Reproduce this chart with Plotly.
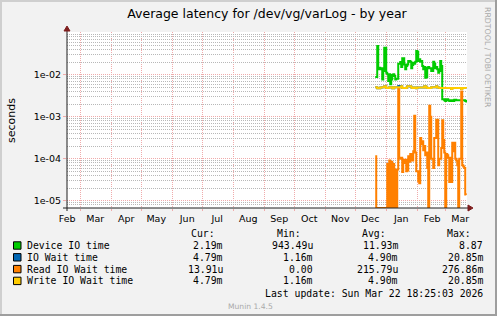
import pandas as pd
import plotly.graph_objects as go

# ---------------- data ----------------
TITLE = "Average latency for /dev/vg/varLog - by year"
Y_TITLE = "seconds"
MONTH_LABELS = ["Feb", "Mar", "Apr", "May", "Jun", "Jul", "Aug",
                "Sep", "Oct", "Nov", "Dec", "Jan", "Feb", "Mar"]
FIRST_MONTH = "2025-02-01"
Y_TICKS = [1e-5, 1e-4, 1e-3, 1e-2]
Y_TICK_LABELS = ["1e-05", "1e-04", "1e-03", "1e-02"]
END_TIME = "2026-03-22 18:25:03"
SPAN_DAYS = 400
DATA_ORIGIN = "2025-12-01"   # day offsets below count from this date

SERIES_NAMES = ["Device IO time", "IO Wait time", "Read IO Wait time", "Write IO Wait time"]
SERIES_COLORS = ["#00CC00", "#0066B3", "#FF8000", "#FFCC00"]

device_days = [20, 22, 23, 24, 25, 26, 27, 28, 29, 31, 32, 33, 34, 35, 36, 37, 38, 39, 40, 41,
               43, 45, 46, 47, 49, 50, 51, 52, 53, 55, 56, 57, 58, 59, 60, 61, 62, 63, 64, 65,
               66, 67, 68, 69, 70, 71, 72, 73, 74, 76, 78, 79, 80, 81, 82, 83, 84, 85, 86, 87,
               89, 90, 91, 93, 94, 96, 98, 99, 101, 110, 111]
device_vals = [0.0088, 0.048, 0.0134, 0.0147, 0.0134, 0.0142, 0.0077, 0.0122, 0.044, 0.0112,
               0.0102, 0.0071, 0.0102, 0.0059, 0.0077, 0.0098, 0.0102, 0.0093, 0.0077, 0.0080,
               0.0183, 0.0200, 0.0152, 0.0245, 0.0176, 0.0134, 0.0161, 0.0176, 0.0211, 0.0204,
               0.0142, 0.0170, 0.0193, 0.0183, 0.0204, 0.0366, 0.0353, 0.0211, 0.0232, 0.0204,
               0.0211, 0.0161, 0.0134, 0.0152, 0.0085, 0.0088, 0.0147, 0.0152, 0.0142, 0.0122,
               0.0204, 0.0183, 0.0142, 0.0152, 0.0134, 0.0112, 0.0122, 0.0211, 0.0161, 0.00259,
               0.00245, 0.00236, 0.00259, 0.00245, 0.00236, 0.00245, 0.00236, 0.00254, 0.00245,
               0.00236, 0.00219]

iowait_days = [20, 22, 25, 27, 29, 31, 33, 34, 37, 39, 43, 45, 46, 47, 51, 52, 56, 57, 59, 61,
               62, 69, 71, 72, 76, 81, 82, 84, 96, 97, 106, 107, 111]
iowait_vals = [5.0e-3, 4.75e-3, 4.95e-3, 5.0e-3, 5.3e-3, 4.85e-3, 4.8e-3, 5.0e-3, 4.75e-3, 5.0e-3,
               5.4e-3, 5.0e-3, 5.3e-3, 4.85e-3, 4.9e-3, 5.3e-3, 4.95e-3, 4.85e-3, 4.95e-3, 4.75e-3,
               4.95e-3, 5.3e-3, 4.95e-3, 4.85e-3, 5.0e-3, 5.3e-3, 4.95e-3, 4.85e-3, 4.55e-3, 4.85e-3,
               4.55e-3, 4.85e-3, 4.79e-3]

read_days = list(range(20, 112))
read_vals = [1.14e-4,
             0, 0, 0, 0, 0, 0, 0, 0, 0, 0, 0,
             7.5e-5, 0, 9.0e-5, 0, 8.5e-5, 0, 7.5e-5, 0, 5.5e-5, 0, 5.5e-5,
             4.8e-3, 1.0e-4, 1.0e-4, 1.05e-4, 4.8e-5, 7.9e-5, 9.5e-5, 9.5e-5, 5.0e-5, 5.2e-5,
             1.14e-4, 8.5e-5, 1.3e-4, 9.0e-5, 9.0e-5, 1.5e-4, 1.06e-3, 1.4e-4, 5.0e-5, 5.0e-5,
             2.9e-5, 2.6e-5, 3.1e-4, 2.2e-4, 2.6e-4, 1.6e-4, 2.0e-4, 1.2e-4, 1.4e-4, 6.0e-5,
             0, 1.83e-3, 1.0e-3, 1.0e-4, 1.0e-4, 6.0e-5, 3.1e-4, 3.1e-4, 8.5e-4, 8.5e-4,
             7.0e-5, 1.0e-4, 1.0e-4, 1.8e-4, 8.2e-4, 2.8e-4, 1.4e-4, 0, 1.3e-4, 1.2e-4,
             1.06e-4, 2.8e-5, 1.06e-4, 2.8e-5, 2.4e-4, 1.5e-4, 2.4e-4, 1.0e-4, 9.0e-5, 7.0e-5,
             0, 1.0e-4, 1.0e-4, 4.0e-3, 7.0e-5, 6.5e-5, 6.0e-5, 1.4e-5, 1.39e-5]

write_days = [20, 22, 25, 27, 29, 31, 33, 34, 37, 39, 43, 46, 47, 51, 52, 56, 57, 59, 61, 62,
              69, 71, 72, 76, 81, 82, 84, 96, 97, 106, 107, 111]
write_vals = [5.0e-3, 4.75e-3, 4.95e-3, 5.0e-3, 5.3e-3, 4.85e-3, 4.8e-3, 5.0e-3, 4.75e-3, 5.0e-3,
              5.0e-3, 5.3e-3, 4.85e-3, 4.9e-3, 5.3e-3, 4.95e-3, 4.85e-3, 4.95e-3, 4.75e-3, 4.95e-3,
              5.3e-3, 4.95e-3, 4.85e-3, 5.0e-3, 5.3e-3, 4.95e-3, 4.85e-3, 4.55e-3, 4.85e-3, 4.55e-3,
              4.85e-3, 4.79e-3]

LEGEND_HEADERS = ["Cur:", "Min:", "Avg:", "Max:"]
CUR = ["2.19m", "4.79m", "13.91u", "4.79m"]
MIN = ["943.49u", "1.16m", "0.00", "1.16m"]
AVG = ["11.93m", "4.90m", "215.79u", "4.90m"]
MAX = ["8.87", "20.85m", "276.86m", "20.85m"]
LAST_UPDATE = "Last update: Sun Mar 22 18:25:03 2026"
WATERMARK = "Munin 1.4.5"
SIDE_TEXT = "RRDTOOL / TOBI OETIKER"

# ---------------- geometry / style ----------------
W, H = 497, 316
PL, PR, PT, PB = 67, 467, 32, 208
YMIN, YMAX = -5.174, -0.983
BG = "#F2F2F2"
MGRID = "#F0ABAB"
GRID = "#B8B8B8"
AXIS = "#1F1F1F"
ARROW = "#7F1F1F"
SANS = "DejaVu Sans"
MONO = "DejaVu Sans Mono"


def px(x):
    return (x - PL) / (PR - PL)


def py(y):
    return (PB - y) / (PB - PT)


end = pd.Timestamp(END_TIME)
start = end - pd.Timedelta(days=SPAN_DAYS)
origin = pd.Timestamp(DATA_ORIGIN)
floor = 10 ** YMIN


def to_dates(days):
    return [origin + pd.Timedelta(days=d) for d in days]


fig = go.Figure()
series = [
    (device_days, device_vals),
    (iowait_days, iowait_vals),
    (read_days, read_vals),
    (write_days, write_vals),
]
for (days, vals), name, color in zip(series, SERIES_NAMES, SERIES_COLORS):
    fig.add_trace(go.Scatter(
        x=to_dates(days), y=[v if v > 0 else floor for v in vals],
        mode="lines", name=name, showlegend=False, hoverinfo="skip",
        line=dict(color=color, width=2, shape="hv"),
    ))

month_starts = pd.date_range(FIRST_MONTH, periods=len(MONTH_LABELS), freq="MS")
label_pos = [m + pd.Timedelta(days=15) for m in month_starts]

minor_y = [m * 10.0 ** e for e in range(-6, 0) for m in range(2, 10)]

fig.update_xaxes(
    type="date", range=[start, end], fixedrange=True,
    tickvals=label_pos, ticktext=MONTH_LABELS, ticks="", showgrid=False,
    zeroline=False, showline=False,
    tickfont=dict(family=SANS, size=9.5, color="#000000"),
    ticklabelstandoff=3,
    minor=dict(dtick="M1", tick0="2025-03-01", showgrid=True, gridcolor=MGRID,
               griddash="1px,1px", gridwidth=1, ticks="outside", ticklen=2,
               tickcolor=MGRID),
)
fig.update_yaxes(
    type="log", range=[YMIN, YMAX], fixedrange=True,
    tickvals=Y_TICKS, ticktext=Y_TICK_LABELS, showgrid=True, gridcolor=MGRID,
    griddash="1px,1px", gridwidth=1, ticks="outside", ticklen=3, tickcolor=MGRID,
    zeroline=False, showline=False,
    tickfont=dict(family=SANS, size=9.5, color="#000000"),
    minor=dict(tickvals=minor_y, showgrid=True, gridcolor=GRID,
               griddash="1px,1px", gridwidth=1, ticks=""),
)

shapes = []
# 3D frame
shapes.append(dict(type="rect", xref="paper", yref="paper", x0=px(0), x1=px(2), y0=py(0), y1=py(H),
                   fillcolor="#CFCFCF", line=dict(width=0), layer="below"))
shapes.append(dict(type="rect", xref="paper", yref="paper", x0=px(0), x1=px(W), y0=py(0), y1=py(2),
                   fillcolor="#CFCFCF", line=dict(width=0), layer="below"))
shapes.append(dict(type="rect", xref="paper", yref="paper", x0=px(W - 2), x1=px(W), y0=py(0), y1=py(H),
                   fillcolor="#9E9E9E", line=dict(width=0), layer="below"))
shapes.append(dict(type="rect", xref="paper", yref="paper", x0=px(0), x1=px(W), y0=py(H - 2), y1=py(H),
                   fillcolor="#9E9E9E", line=dict(width=0), layer="below"))
# axes
shapes.append(dict(type="line", xref="paper", yref="paper", x0=px(63), x1=px(469), y0=0, y1=0,
                   line=dict(color=AXIS, width=1)))
shapes.append(dict(type="line", xref="paper", yref="paper", x0=0, x1=0, y0=py(211), y1=py(29),
                   line=dict(color=AXIS, width=1)))
# arrows
shapes.append(dict(type="path", xref="paper", yref="paper", xsizemode="pixel", ysizemode="pixel",
                   xanchor=px(PR), yanchor=0, path="M1,-3 L6,0 L1,3 Z",
                   fillcolor=ARROW, line=dict(color=ARROW, width=1)))
shapes.append(dict(type="path", xref="paper", yref="paper", xsizemode="pixel", ysizemode="pixel",
                   xanchor=0, yanchor=1, path="M-3,1 L0,6 L3,1 Z",
                   fillcolor=ARROW, line=dict(color=ARROW, width=1)))

ann = []


def text(x, y, s, size=9.8, family=MONO, color="#000000", xanchor="left", angle=0):
    ann.append(dict(x=px(x), y=py(y), xref="paper", yref="paper", text=s, showarrow=False,
                    xanchor=xanchor, yanchor="middle", textangle=angle,
                    borderpad=0, borderwidth=0,
                    font=dict(family=family, size=size, color=color)))


text(11, 120, Y_TITLE, size=11, family=SANS, xanchor="center", angle=-90)
text(488, 57, SIDE_TEXT, size=7.8, family=SANS, color="#A9A9A9", xanchor="center", angle=90)

row_y = [245.5, 257.3, 269.1, 280.9]
header_x = [191, 276.7, 361.7, 447]
for hx, h in zip(header_x, LEGEND_HEADERS):
    text(hx, 233.5, h)
for i, name in enumerate(SERIES_NAMES):
    y = row_y[i]
    shapes.append(dict(type="rect", xref="paper", yref="paper",
                       x0=px(13.5), x1=px(21), y0=py(y + 3.7), y1=py(y - 3.7),
                       fillcolor=SERIES_COLORS[i], line=dict(color="#000000", width=1)))
    text(26.5, y, name)
    text(222.5, y, CUR[i], xanchor="right")
    text(313, y, MIN[i], xanchor="right")
    text(397.5, y, AVG[i], xanchor="right")
    text(483, y, MAX[i], xanchor="right")
text(483, 293.3, LAST_UPDATE, xanchor="right")
text(250, 306, WATERMARK, size=7.6, family=SANS, color="#A9A9A9", xanchor="center")

fig.update_layout(
    width=W, height=H, autosize=False,
    margin=dict(l=PL, r=W - PR, t=PT, b=H - PB, pad=0),
    paper_bgcolor=BG, plot_bgcolor="#FFFFFF",
    title=dict(text=TITLE, x=0.5, xref="paper", xanchor="center",
               y=1 - 13.5 / H, yref="container", yanchor="middle",
               font=dict(family=SANS, size=12.5, color="#000000")),
    shapes=shapes, annotations=ann, showlegend=False,
)

fig.write_html("out.html")
